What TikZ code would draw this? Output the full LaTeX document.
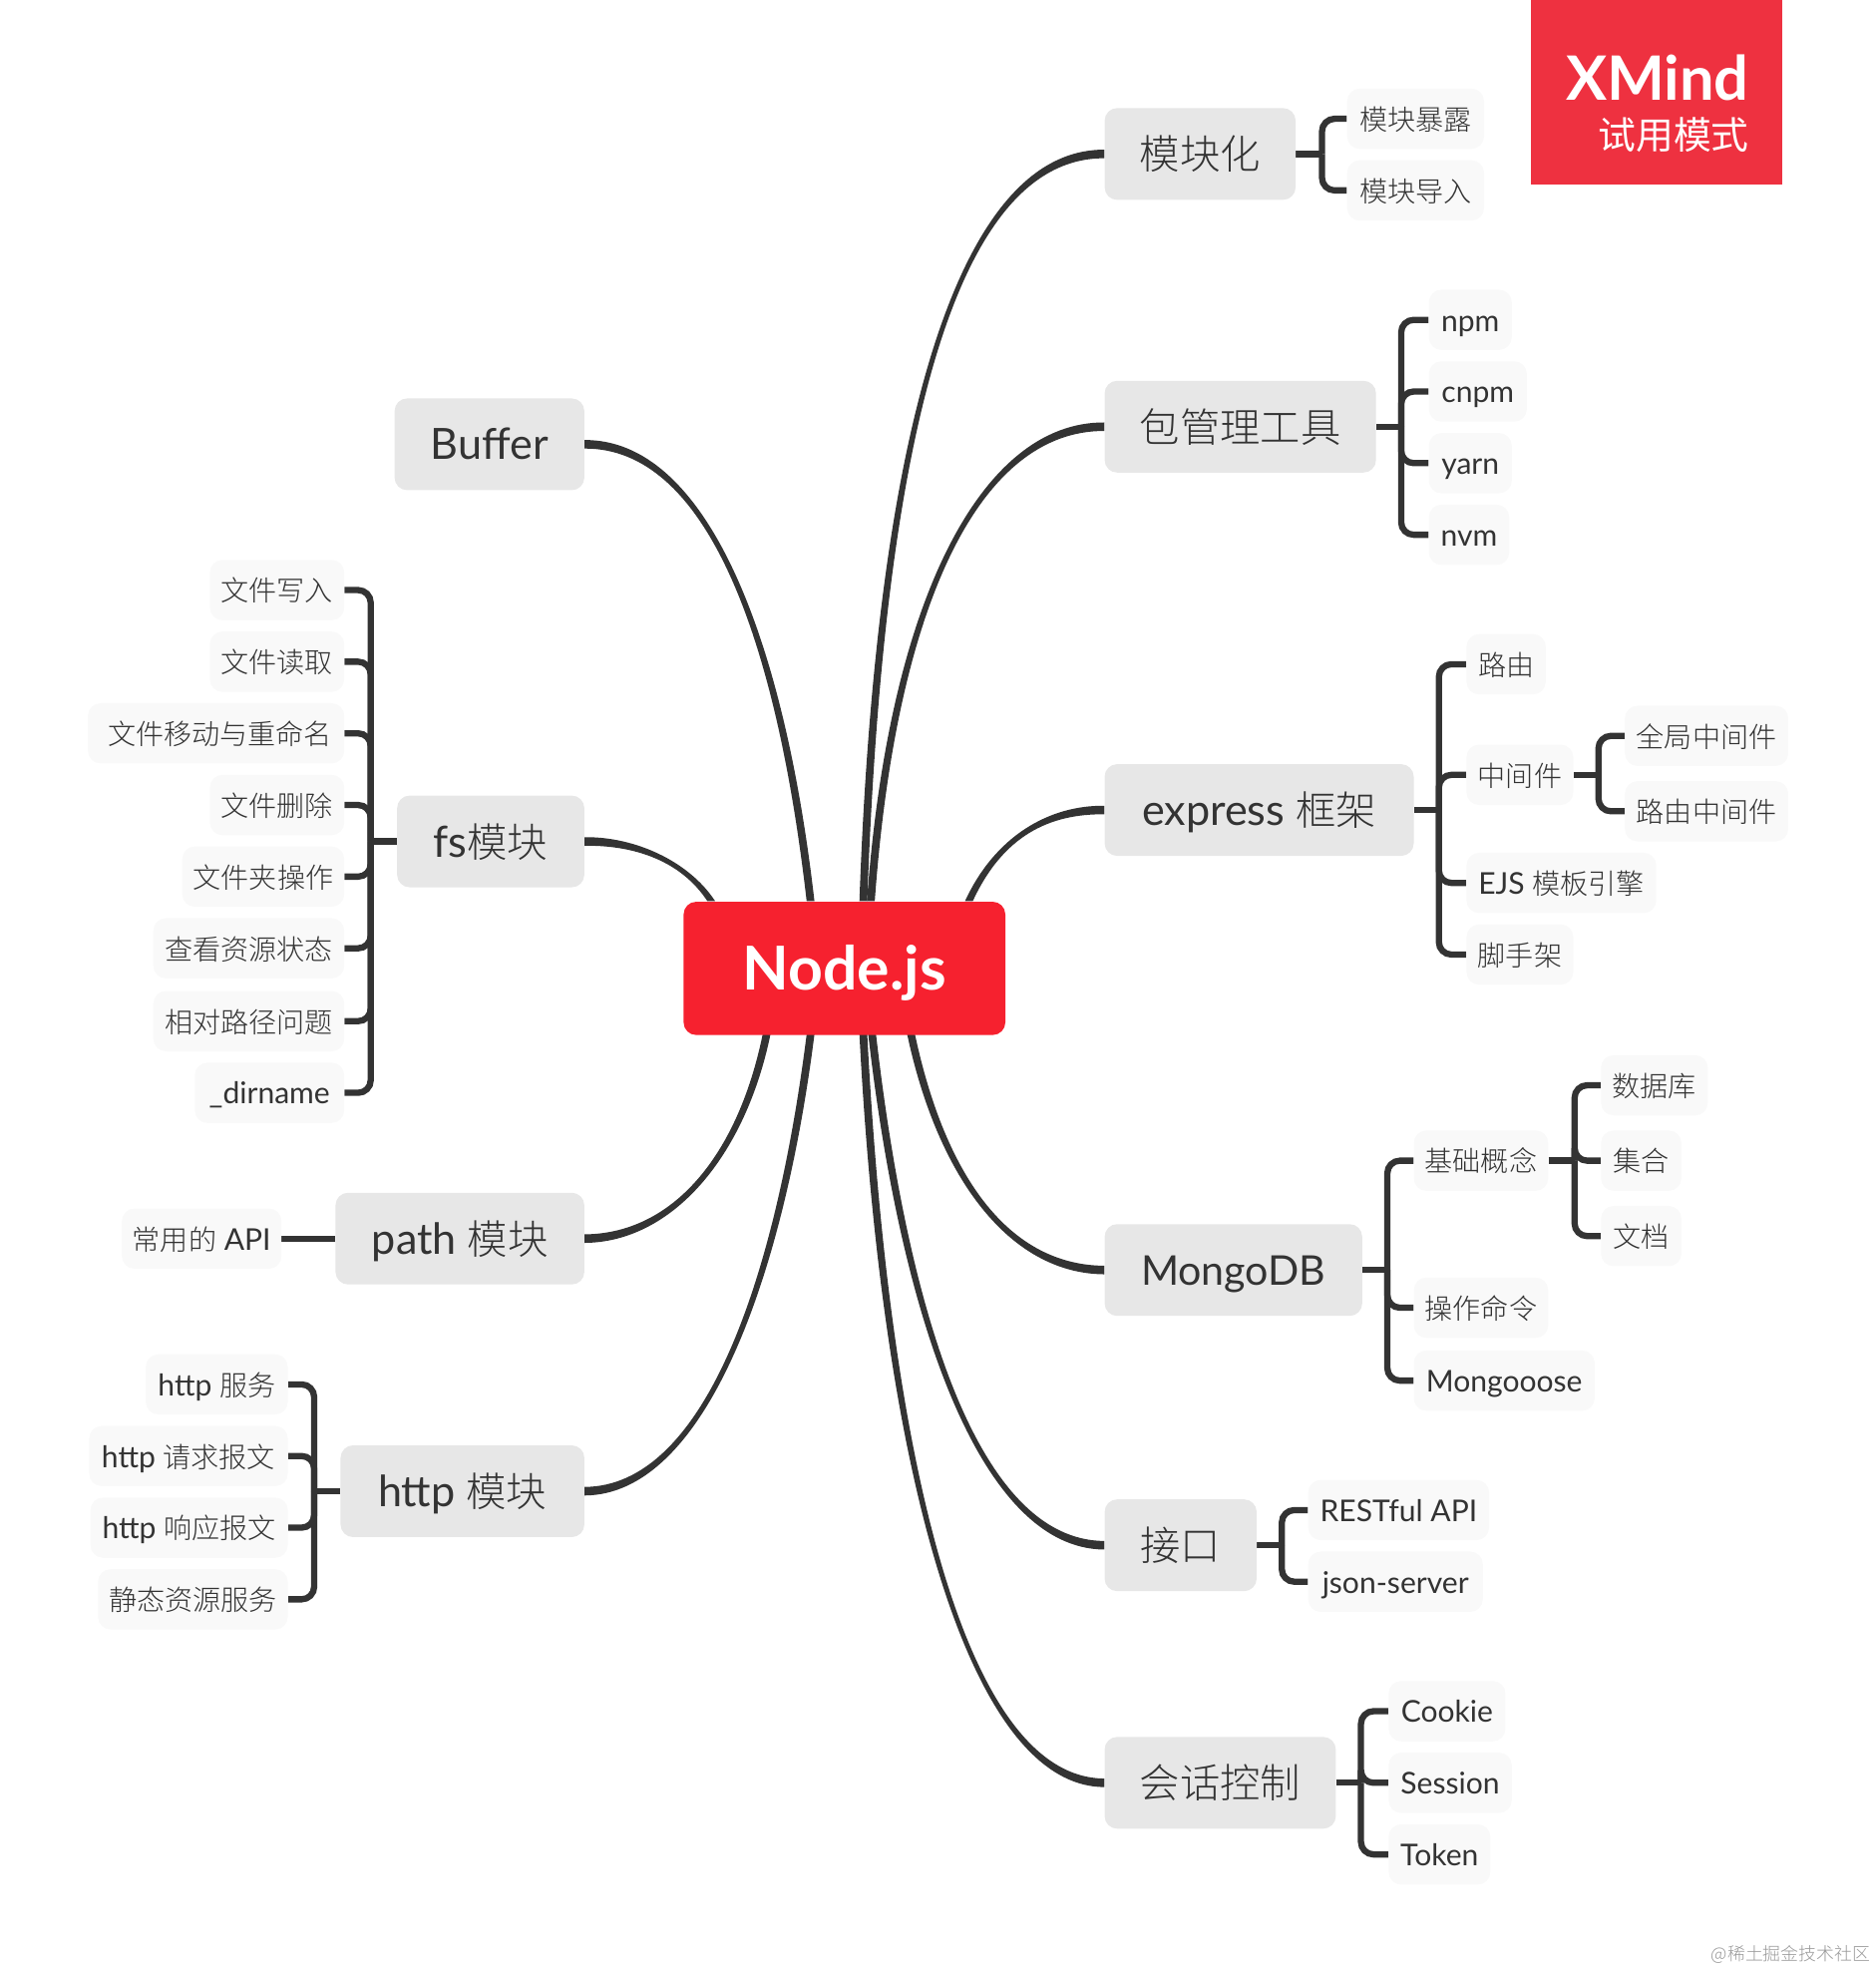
\documentclass[tikz,border=0pt]{standalone}
\usepackage{fontspec}
\setmainfont{Lato}[Scale=1.07]
\newfontfamily\cjk{Noto Sans CJK SC Light}
\newfontfamily\cjkreg{Noto Sans CJK SC}
\newcommand{\C}[1]{{\cjk #1}}
\definecolor{ink}{HTML}{333333}
\definecolor{rootred}{HTML}{F6212F}
\definecolor{markred}{HTML}{EE3140}
\definecolor{topicbg}{HTML}{E7E7E7}
\definecolor{subbg}{HTML}{F9F9F9}
\usetikzlibrary{backgrounds}
\tikzset{
  boxbase/.style={rounded corners=10pt,inner sep=0pt,text=ink,anchor=center,align=center},
  rootbox/.style={boxbase,fill=rootred,text=white,font=\fontsize{45}{46}\selectfont\bfseries,minimum height=106pt,text height=40.5pt,text depth=5.5pt},
  topicbox/.style={boxbase,fill=topicbg,font=\fontsize{32}{32}\selectfont,minimum height=73pt,text height=29.5pt,text depth=5pt},
  subbox/.style={boxbase,fill=subbg,font=\fontsize{22.3}{24}\selectfont,minimum height=48pt,text height=21pt,text depth=3pt},
  branch/.style={draw=ink,line width=5pt,rounded corners=10pt},
  stub/.style={draw=ink,line width=5pt},
}
\newcommand{\bx}[6]{%
  \pgfmathsetmacro{\bxw}{#4-#3}\pgfmathsetmacro{\bxc}{(#4+#3)/2}%
  \node[#1,minimum width=\bxw pt] (#2) at (\bxc,#5+0.5) {#6};}
\newcommand{\brR}[3]{\draw[branch] (#2,0 |- #1.east) -- (#2,0 |- #3.west) -- (#3.west);}
\newcommand{\brL}[3]{\draw[branch] (#2,0 |- #1.west) -- (#2,0 |- #3.east) -- (#3.east);}
\newcommand{\taper}[6]{\fill[ink] ([shift={(#5,0)}]#1) .. controls ([shift={(#5,0)}]#2) and ([shift={(0,#6)}]#3) .. ([shift={(0,#6)}]#4) -- ([shift={(0,-1*#6)}]#4) .. controls ([shift={(0,-1*#6)}]#3) and ([shift={(-1*#5,0)}]#2) .. ([shift={(-1*#5,0)}]#1) -- cycle;}
\begin{document}
\begin{tikzpicture}[x=1pt,y=-1pt]
\useasboundingbox (0,0) rectangle (1492.86,1569.05);
\bx{rootbox}{root}{544}{800}{770}{Node.js}
\coordinate (rA) at (687,717);
\coordinate (rB) at (693,717);
\coordinate (rC) at (771,717);
\coordinate (rD) at (725,823);
\coordinate (rE) at (694,823);
\coordinate (rF) at (687,823);
\coordinate (rG) at (645,717);
\coordinate (rH) at (566,717);
\coordinate (rI) at (610,823);
\coordinate (rJ) at (645,823);
\bx{topicbox}{mk}{879}{1031}{122}{\C{模块化}}
\bx{topicbox}{pk}{879}{1095}{339}{\C{包管理工具}}
\bx{topicbox}{ex}{879}{1125}{644}{express \C{框架}}
\bx{topicbox}{mg}{879}{1084}{1010}{\fontsize{30.5}{32}\selectfont MongoDB}
\bx{topicbox}{jk}{879}{1000}{1229}{\C{接口}}
\bx{topicbox}{hh}{879}{1063}{1418}{\C{会话控制}}
\bx{topicbox}{bf}{314}{465}{353}{Buffer}
\bx{topicbox}{fs}{316}{465}{669}{fs\C{模块}}
\bx{topicbox}{pa}{267}{465}{985}{path \C{模块}}
\bx{topicbox}{ht}{271}{465}{1186}{http \C{模块}}
\bx{subbox}{mk1}{1072}{1181}{94}{\C{模块暴露}}
\bx{subbox}{mk2}{1072}{1181}{151}{\C{模块导入}}
\bx{subbox}{pk1}{1137}{1203}{254}{npm}
\bx{subbox}{pk2}{1137}{1215}{311}{cnpm}
\bx{subbox}{pk3}{1137}{1203}{368}{yarn}
\bx{subbox}{pk4}{1137}{1201}{425}{nvm}
\bx{subbox}{ex1}{1167}{1230}{528}{\C{路由}}
\bx{subbox}{ex2}{1167}{1252}{616}{\C{中间件}}
\bx{subbox}{ex2a}{1293}{1423}{585}{\C{全局中间件}}
\bx{subbox}{ex2b}{1293}{1423}{645}{\C{路由中间件}}
\bx{subbox}{ex3}{1167}{1318}{702}{EJS \C{模板引擎}}
\bx{subbox}{ex4}{1167}{1252}{759}{\C{脚手架}}
\bx{subbox}{mg1}{1125}{1232}{923}{\C{基础概念}}
\bx{subbox}{mg1a}{1274}{1359}{863}{\C{数据库}}
\bx{subbox}{mg1b}{1274}{1338}{923}{\C{集合}}
\bx{subbox}{mg1c}{1274}{1338}{983}{\C{文档}}
\bx{subbox}{mg2}{1125}{1232}{1040}{\C{操作命令}}
\bx{subbox}{mg3}{1125}{1269}{1098}{Mongooose}
\bx{subbox}{jk1}{1041}{1185}{1201}{RESTful API}
\bx{subbox}{jk2}{1041}{1180}{1258}{json-server}
\bx{subbox}{hh1}{1105}{1198}{1361}{Cookie}
\bx{subbox}{hh2}{1105}{1203}{1418}{Session}
\bx{subbox}{hh3}{1105}{1186}{1475}{Token}
\bx{subbox}{fs1}{167}{274}{469}{\C{文件写入}}
\bx{subbox}{fs2}{167}{274}{526}{\C{文件读取}}
\bx{subbox}{fs3}{70}{274}{583}{\hspace{6pt}\C{文件移动与重命名}}
\bx{subbox}{fs4}{167}{274}{640}{\C{文件删除}}
\bx{subbox}{fs5}{145}{274}{697}{\C{文件夹操作}}
\bx{subbox}{fs6}{122}{274}{754}{\C{查看资源状态}}
\bx{subbox}{fs7}{122}{274}{812}{\C{相对路径问题}}
\bx{subbox}{fs8}{155}{274}{869}{\_dirname}
\bx{subbox}{pa1}{97}{224}{985}{\C{常用的} API}
\bx{subbox}{ht1}{116}{229}{1101}{http \C{服务}}
\bx{subbox}{ht2}{71}{229}{1158}{http \C{请求报文}}
\bx{subbox}{ht3}{72}{229}{1215}{http \C{响应报文}}
\bx{subbox}{ht4}{78}{229}{1272}{\C{静态资源服务}}
\node[fill=markred,minimum width=200pt,minimum height=147pt,inner sep=0pt] (xm) at (1318,73.5) {};
\node[anchor=east,inner sep=0pt,text=white,font=\fontsize{45.5}{48}\selectfont\bfseries] (xm1) at (1392,62) {XMind};
\node[anchor=east,inner sep=0pt,text=white,font=\fontsize{30}{30}\selectfont] (xm2) at (1392,107) {{\cjkreg 试用模式}};
\node[anchor=east,inner sep=0pt,text=black!40,font=\fontsize{14.2}{15}\selectfont] (wm) at (1488.5,1555) {\C{@稀土掘金技术社区}};
\begin{scope}[on background layer]
\taper{rA}{700,350}{760,122}{mk.west}{-3.1}{-3.4}
\taper{rB}{710,480}{780,339}{pk.west}{-3.1}{-3.4}
\taper{rC}{795,665}{835,644}{ex.west}{-3.1}{-3.4}
\taper{rD}{750,940}{805,1010}{mg.west}{-3.1}{3.4}
\taper{rE}{720,1050}{780,1229}{jk.west}{-3.1}{3.4}
\taper{rF}{705,1170}{770,1418}{hh.west}{-3.1}{3.4}
\taper{rG}{620,500}{560,353}{bf.east}{3.1}{-3.4}
\taper{rH}{545,685}{505,669}{fs.east}{3.1}{-3.4}
\taper{rI}{590,920}{535,985}{pa.east}{3.1}{3.4}
\taper{rJ}{620,1020}{560,1186}{ht.east}{3.1}{3.4}
\draw[stub] (mk.east) -- (1052,0 |- mk.east);
\foreach \c in {mk1,mk2}{\brR{mk}{1052}{\c}}
\draw[stub] (pk.east) -- (1115,0 |- pk.east);
\foreach \c in {pk1,pk2,pk3,pk4}{\brR{pk}{1115}{\c}}
\draw[stub] (ex.east) -- (1145,0 |- ex.east);
\foreach \c in {ex1,ex2,ex3,ex4}{\brR{ex}{1145}{\c}}
\draw[stub] (ex2.east) -- (1272,0 |- ex2.east);
\foreach \c in {ex2a,ex2b}{\brR{ex2}{1272}{\c}}
\draw[stub] (mg.east) -- (1104,0 |- mg.east);
\foreach \c in {mg1,mg2,mg3}{\brR{mg}{1104}{\c}}
\draw[stub] (mg1.east) -- (1253,0 |- mg1.east);
\foreach \c in {mg1a,mg1b,mg1c}{\brR{mg1}{1253}{\c}}
\draw[stub] (jk.east) -- (1020,0 |- jk.east);
\foreach \c in {jk1,jk2}{\brR{jk}{1020}{\c}}
\draw[stub] (hh.east) -- (1083,0 |- hh.east);
\foreach \c in {hh1,hh2,hh3}{\brR{hh}{1083}{\c}}
\draw[stub] (fs.west) -- (295,0 |- fs.west);
\foreach \c in {fs1,fs2,fs3,fs4,fs5,fs6,fs7,fs8}{\brL{fs}{295}{\c}}
\draw[stub] (ht.west) -- (250,0 |- ht.west);
\foreach \c in {ht1,ht2,ht3,ht4}{\brL{ht}{250}{\c}}
\draw[stub] (pa.west) -- (pa1.east);
\end{scope}
\end{tikzpicture}
\end{document}
